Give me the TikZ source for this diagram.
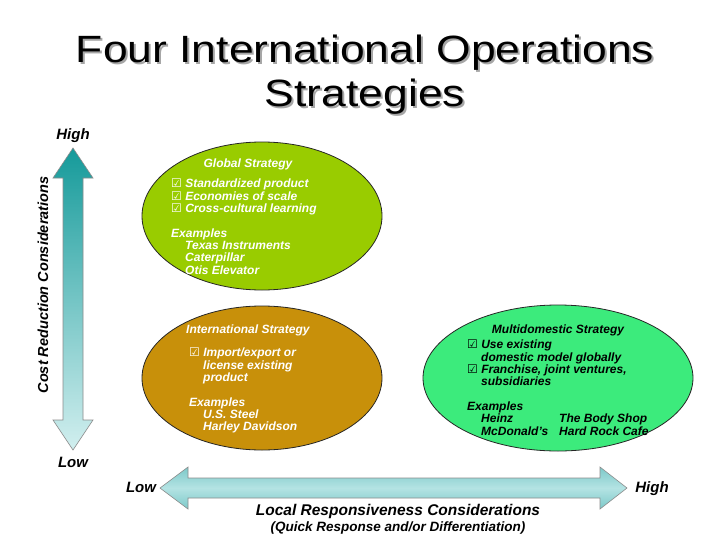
\documentclass[tikz,border=0pt]{standalone}
\usepackage{fontspec}
\setmainfont{Liberation Sans}
\newfontfamily\titlefont[FakeStretch=1.17]{Liberation Sans}
\newfontfamily\symfont{DejaVu Sans}
\usetikzlibrary{shapes.geometric}
\definecolor{globalgreen}{HTML}{99CC00}
\definecolor{intlgold}{HTML}{C8900A}
\definecolor{multigreen}{HTML}{3CEB7C}
\definecolor{tealdark}{HTML}{159A9A}
\definecolor{teallight}{HTML}{D2EFEF}
\definecolor{tealmid}{HTML}{7CC9C9}
\definecolor{teallt}{HTML}{B4E3E3}
\newcommand{\chk}{{\symfont\upshape\mdseries ☑}}
\tikzset{
  strat/.style={ellipse, draw=black!85, line width=0.8pt, inner sep=0pt},
  body/.style={font=\bfseries\itshape\fontsize{12}{12.3}\selectfont, align=left, inner sep=0pt, anchor=north west},
  head/.style={font=\bfseries\itshape\fontsize{12}{12.3}\selectfont, inner sep=0pt},
  axislbl/.style={font=\bfseries\itshape\fontsize{15}{17}\selectfont, inner sep=0pt},
  axisarrow/.style={draw=black!45, line width=0.6pt},
  titletxt/.style={font=\titlefont\fontsize{38}{42}\selectfont, inner sep=0pt, anchor=base}
}
\begin{document}
\begin{tikzpicture}[x=1pt,y=-1pt]
\useasboundingbox[fill=white] (0,0) rectangle (728,546);
% title with shadow
\node[titletxt, text=black!35] at (367,64) {Four International Operations};
\node[titletxt, text=black!35] at (367,108) {Strategies};
\node[titletxt] (t1) at (365,62) {Four International Operations};
\node[titletxt] (t2) at (365,106) {Strategies};
% vertical arrow
\path[axisarrow, top color=tealdark, bottom color=teallight]
  (73,148) -- (93,178) -- (83,178) -- (83,420) -- (93,420) -- (73,450)
  -- (53,420) -- (63,420) -- (63,178) -- (53,178) -- cycle;
\node[axislbl, anchor=base] (vhigh) at (73,139) {High};
\node[axislbl, anchor=base] (vlow) at (73,467) {Low};
\node[axislbl, rotate=90, font=\bfseries\itshape\fontsize{14.5}{16}\selectfont] (vlab) at (43,285) {Cost Reduction Considerations};
% horizontal arrow
\path[axisarrow, top color=tealmid, bottom color=tealmid, middle color=teallt]
  (160,488) -- (188,467) -- (188,478) -- (600,478) -- (600,467) -- (627,488)
  -- (600,509) -- (600,498) -- (188,498) -- (188,509) -- cycle;
\node[axislbl, anchor=base] (hlow) at (141,492) {Low};
\node[axislbl, anchor=base] (hhigh) at (652,492) {High};
\node[axislbl, anchor=base, font=\bfseries\itshape\fontsize{15.5}{17}\selectfont] (hlab) at (398,515) {Local Responsiveness Considerations};
\node[axislbl, anchor=base, font=\bfseries\itshape\fontsize{13.5}{15}\selectfont] (hsub) at (398,531) {(Quick Response and/or Differentiation)};
% ellipses
\node[strat, fill=globalgreen, minimum width=240pt, minimum height=148pt] (global) at (262,216) {};
\node[strat, fill=intlgold, minimum width=240pt, minimum height=144pt] (intl) at (262,378) {};
\node[strat, fill=multigreen, minimum width=270pt, minimum height=146pt] (multi) at (558,378) {};
% global text
\node[head, anchor=base, text=white] (gh) at (248,167) {Global Strategy};
\node[body, text=white] (gb) at (171,179) {\chk\ Standardized product\\
\chk\ Economies of scale\\
\chk\ Cross-cultural learning\\[12.3pt]
Examples\\
\hspace*{14pt}Texas Instruments\\
\hspace*{14pt}Caterpillar\\
\hspace*{14pt}Otis Elevator};
% international text
\node[head, anchor=base west, text=white] (ih) at (186,333) {International Strategy};
\node[body, text=white] (ib) at (189,348) {\chk\ Import/export or\\
\hspace*{14pt}license existing\\
\hspace*{14pt}product\\[12.3pt]
Examples\\
\hspace*{14pt}U.S. Steel\\
\hspace*{14pt}Harley Davidson};
% multidomestic text
\node[head, anchor=base, text=black] (mh) at (558,333) {Multidomestic Strategy};
\node[body, text=black] (mb) at (467,340) {\chk\ Use existing\\
\hspace*{14pt}domestic model globally\\
\chk\ Franchise, joint ventures,\\
\hspace*{14pt}subsidiaries\\[12.3pt]
Examples\\
\hspace*{14pt}\makebox[78pt][l]{Heinz}The Body Shop\\
\hspace*{14pt}\makebox[78pt][l]{McDonald’s}Hard Rock Cafe};
\end{tikzpicture}
\end{document}
